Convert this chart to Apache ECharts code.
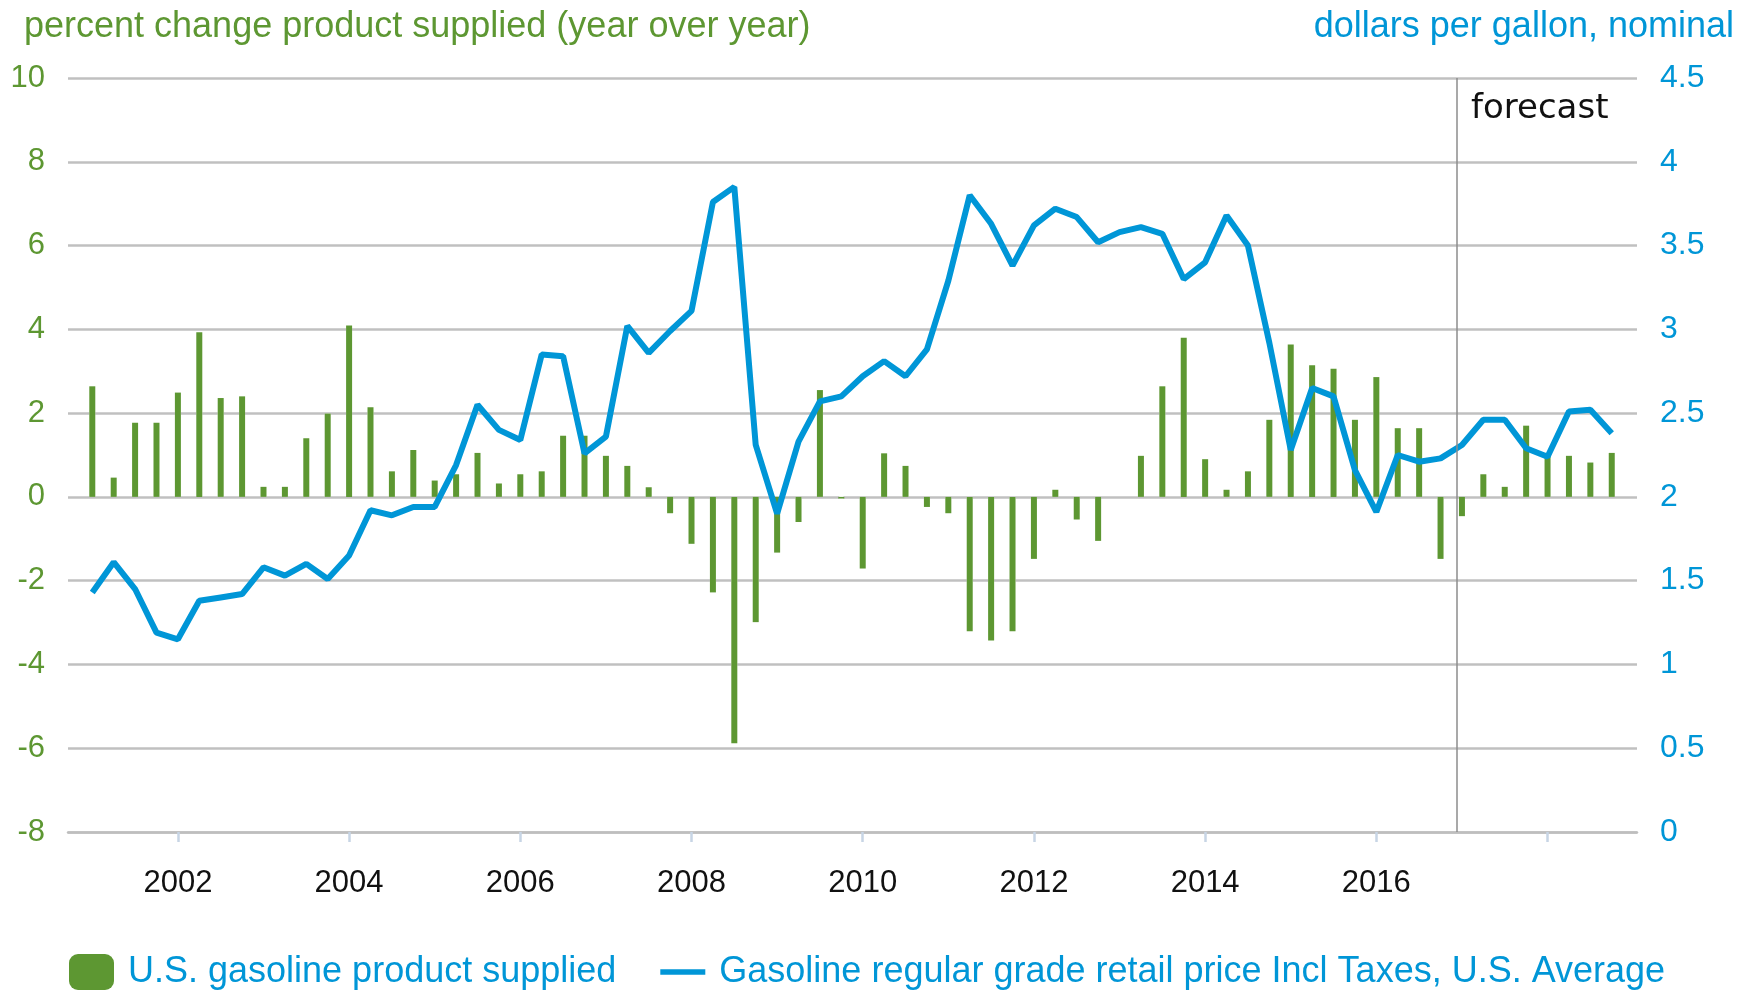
<!DOCTYPE html>
<html>
<head>
<meta charset="utf-8">
<title>U.S. gasoline product supplied and retail price</title>
<script src="https://cdn.jsdelivr.net/npm/echarts@6/dist/echarts.min.js"></script>
<style>
  html, body { margin: 0; padding: 0; background: #fff; }
  #chart { width: 1754px; height: 991px; }
</style>
</head>
<body>
<div id="chart"></div>
<script>
const years = ['2001', '2002', '2003', '2004', '2005', '2006', '2007', '2008', '2009',
  '2010', '2011', '2012', '2013', '2014', '2015', '2016', '2017', '2018']
const quarters = years.flatMap(y => [y + 'Q1', y + 'Q2', y + 'Q3', y + 'Q4'])

const tickYears = ['2002', '2004', '2006', '2008', '2010', '2012', '2014', '2016', '2018']
const labelYears = ['2002', '2004', '2006', '2008', '2010', '2012', '2014', '2016']
const forecastFrom = '2017Q1'

// percent change, year over year
const supplied = [
  2.64, 0.46, 1.77, 1.77,
  2.49, 3.93, 2.36, 2.40,
  0.24, 0.24, 1.40, 1.99,
  4.09, 2.14, 0.61, 1.12,
  0.39, 0.54, 1.05, 0.32,
  0.54, 0.61, 1.46, 1.46,
  0.98, 0.74, 0.23, -0.39,
  -1.12, -2.28, -5.88, -2.99,
  -1.33, -0.60, 2.55, -0.04,
  -1.71, 1.04, 0.74, -0.24,
  -0.39, -3.21, -3.43, -3.21,
  -1.48, 0.17, -0.54, -1.05,
  0.00, 0.98, 2.64, 3.80,
  0.90, 0.17, 0.61, 1.84,
  3.64, 3.14, 3.06, 1.84,
  2.86, 1.64, 1.64, -1.48,
  -0.46, 0.54, 0.24, 1.70,
  1.05, 0.98, 0.82, 1.05
]

// dollars per gallon
const price = [
  1.43, 1.61, 1.45, 1.19,
  1.15, 1.38, 1.40, 1.42,
  1.58, 1.53, 1.60, 1.51,
  1.65, 1.92, 1.89, 1.94,
  1.94, 2.19, 2.55, 2.40,
  2.34, 2.85, 2.84, 2.26,
  2.36, 3.02, 2.86, 2.99,
  3.11, 3.76, 3.85, 2.31,
  1.90, 2.33, 2.57, 2.60,
  2.72, 2.81, 2.72, 2.88,
  3.29, 3.80, 3.63, 3.38,
  3.62, 3.72, 3.67, 3.52,
  3.58, 3.61, 3.57, 3.30,
  3.40, 3.68, 3.50, 2.92,
  2.28, 2.65, 2.60, 2.16,
  1.91, 2.25, 2.21, 2.23,
  2.31, 2.46, 2.46, 2.29,
  2.24, 2.51, 2.52, 2.38
]

const GREEN = '#5d9732'
const BLUE = '#0096d7'
const FONT = '"Liberation Sans", Arial, sans-serif'

const q1Index = y => quarters.indexOf(y + 'Q1')
const suppliedData = supplied.map((v, i) => [i, v])
// no halo where there is no bar, so the zero line stays whole there
const haloData = supplied.map((v, i) => [i, v === 0 ? '-' : v])
const priceData = price.map((v, i) => [i, v])

const chart = echarts.init(document.getElementById('chart'))

const option = {
  animation: false,
  textStyle: { fontFamily: FONT },
  grid: { left: 68, right: 117, top: 78, bottom: 159 },
  legend: {
    left: 64,
    top: 949,
    itemWidth: 45,
    itemHeight: 36,
    itemGap: 44,
    selectedMode: false,
    data: [
      { name: 'U.S. gasoline product supplied', icon: 'roundRect' },
      { name: 'Gasoline regular grade retail price Incl Taxes, U.S. Average', icon: 'path://M0,0H48V6H0Z' }
    ],
    textStyle: { color: BLUE, fontSize: 36, fontFamily: FONT, padding: [0, 0, 0, 9] }
  },
  xAxis: {
    type: 'value',
    min: -1.135,
    max: 72.18,
    axisLine: { onZero: false, lineStyle: { color: '#bebebe', width: 2.5 } },
    axisTick: {
      customValues: tickYears.map(q1Index),
      length: 10,
      lineStyle: { color: '#c7d5e5', width: 2.5 }
    },
    axisLabel: {
      customValues: labelYears.map(q1Index),
      formatter: v => quarters[v].slice(0, 4),
      color: '#111',
      fontSize: 31,
      margin: 36
    },
    splitLine: { show: false }
  },
  yAxis: [
    {
      type: 'value',
      min: -8,
      max: 10,
      interval: 2,
      axisLine: { show: false },
      axisTick: { show: false },
      axisLabel: { color: GREEN, fontSize: 31, margin: 23 },
      splitLine: { lineStyle: { color: '#c0c0c0', width: 2.5 } }
    },
    {
      type: 'value',
      position: 'right',
      min: 0,
      max: 4.5,
      interval: 0.5,
      axisLine: { show: false },
      axisTick: { show: false },
      axisLabel: { color: BLUE, fontSize: 32, margin: 23 },
      splitLine: { show: false }
    }
  ],
  graphic: [
    {
      type: 'text', left: 24, top: 9,
      style: { text: 'percent change product supplied (year over year)', fill: GREEN, font: '36px ' + FONT }
    },
    {
      type: 'text', right: 20, top: 9,
      style: { text: 'dollars per gallon, nominal', fill: BLUE, font: '36px ' + FONT }
    },
    {
      type: 'text', left: 1471, top: 92,
      style: { text: 'forecast', fill: '#111', font: '34px "DejaVu Sans", sans-serif' }
    }
  ],
  series: [
    {
      // white halo behind the bars, cuts the gridlines like the original
      name: 'halo',
      type: 'bar',
      data: haloData,
      barWidth: 6,
      barGap: '-100%',
      silent: true,
      itemStyle: { color: '#fff', borderColor: '#fff', borderWidth: 5 }
    },
    {
      name: 'U.S. gasoline product supplied',
      type: 'bar',
      data: suppliedData,
      barWidth: 6,
      barGap: '-100%',
      itemStyle: { color: GREEN }
    },
    {
      name: 'Gasoline regular grade retail price Incl Taxes, U.S. Average',
      type: 'line',
      yAxisIndex: 1,
      data: priceData,
      symbol: 'none',
      z: 3,
      itemStyle: { color: BLUE },
      lineStyle: { color: BLUE, width: 6 },
      markLine: {
        silent: true,
        symbol: 'none',
        label: { show: false },
        lineStyle: { color: '#8c8c8c', width: 1.5, type: 'solid' },
        data: [{ xAxis: quarters.indexOf(forecastFrom) - 0.25 }]
      }
    }
  ]
}

chart.setOption(option)
</script>
</body>
</html>
